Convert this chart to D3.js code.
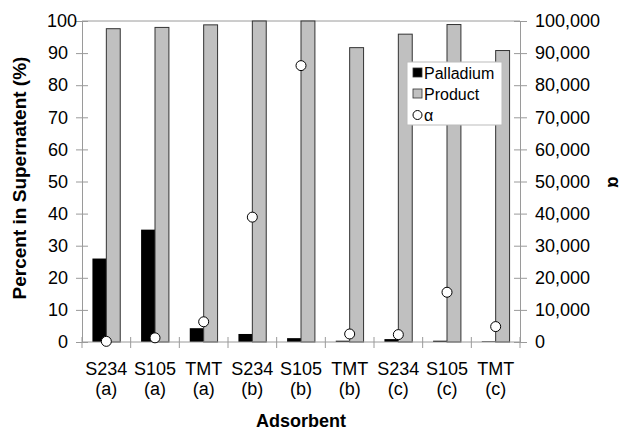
<!DOCTYPE html>
<html>
<head>
<meta charset="utf-8">
<script src="https://cdn.jsdelivr.net/npm/d3@7"></script>
<style>
  body { margin: 0; background: #fff; }
  text { font-family: "Liberation Sans", Arial, sans-serif; fill: #000; }
</style>
</head>
<body>
<svg id="mainsvg" width="624" height="430"></svg>
<script>
// data
const adsorbents = ['S234', 'S105', 'TMT', 'S234', 'S105', 'TMT', 'S234', 'S105', 'TMT'];
const batches = ['(a)', '(a)', '(a)', '(b)', '(b)', '(b)', '(c)', '(c)', '(c)'];
const palladium = [26, 35, 4.3, 2.5, 1.2, 0.4, 0.9, 0.4, 0.2];
const product = [97.6, 98, 98.8, 100, 100, 91.7, 95.9, 98.9, 90.8];
const alpha = [200, 1300, 6300, 38900, 86100, 2500, 2300, 15500, 4800];
const leftTicks = [0, 10, 20, 30, 40, 50, 60, 70, 80, 90, 100];
const rightTicks = [0, 10000, 20000, 30000, 40000, 50000, 60000, 70000, 80000, 90000, 100000];

var svg = d3.select("#mainsvg"),
    margin = {top: 21, right: 104, bottom: 88, left: 82},
    width = svg.attr("width") - margin.left - margin.right,
    height = svg.attr("height") - margin.top - margin.bottom;

var g = svg.append("g")
    .attr('transform', 'translate(' + margin.left + ',' + margin.top + ')')

var keys = d3.range(adsorbents.length)
var rows = keys.map(i => ({i: i, name: adsorbents[i], batch: batches[i],
                          palladium: palladium[i], product: product[i], alpha: alpha[i]}))

// Scales
var x = d3.scaleBand().domain(keys).range([0, width]).padding(0)
var xin = d3.scaleBand().domain(['palladium', 'product'])
    .range([0, x.bandwidth()]).paddingInner(0).paddingOuter(0.75)
var y = d3.scaleLinear().domain([0, 100]).range([height, 0])
var y2 = d3.scaleLinear().domain([0, 100000]).range([height, 0])

const grey = '#9a9a9a'

// top border
g.append('line')
    .attr('x1', 0).attr('x2', width)
    .attr('y1', 0).attr('y2', 0)
    .attr('stroke', grey)

// bars
var groups = g.append('g').selectAll('g')
    .data(rows)
    .enter()
    .append('g')
    .attr('transform', d => 'translate(' + x(d.i) + ',0)')

groups.append('rect')
    .attr('x', xin('palladium'))
    .attr('width', xin.bandwidth())
    .attr('y', d => y(d.palladium))
    .attr('height', d => height - y(d.palladium))
    .attr('fill', '#000')

groups.append('rect')
    .attr('x', xin('product'))
    .attr('width', xin.bandwidth())
    .attr('y', d => y(d.product))
    .attr('height', d => height - y(d.product))
    .attr('fill', '#c0c0c0')
    .attr('stroke', '#333')
    .attr('stroke-width', 1)

// left axis
var yAxis = g.append('g')
    .call(d3.axisLeft(y).tickValues(leftTicks).tickSize(6).tickSizeOuter(0).tickPadding(8))
yAxis.select('.domain').attr('stroke', grey)
yAxis.selectAll('.tick line').attr('x1', 6).attr('stroke', grey)
yAxis.selectAll('.tick text').style('font-size', '18px')
    .filter(d => d === 100).attr('dx', 9)

// right axis
var y2Axis = g.append('g')
    .attr('transform', 'translate(' + width + ',0)')
    .call(d3.axisRight(y2).tickValues(rightTicks).tickFormat(d3.format(',')).tickSize(7).tickSizeOuter(0).tickPadding(8))
y2Axis.select('.domain').attr('stroke', grey)
y2Axis.selectAll('.tick line').attr('x1', -6).attr('stroke', grey)
y2Axis.selectAll('.tick text').style('font-size', '18px')

// bottom axis
g.append('line')
    .attr('x1', 0).attr('x2', width)
    .attr('y1', height).attr('y2', height)
    .attr('stroke', grey)

g.append('g').selectAll('line')
    .data(keys.map(k => x(k)).concat([width]))
    .enter()
    .append('line')
    .attr('x1', d => d).attr('x2', d => d)
    .attr('y1', height - 5).attr('y2', height + 6)
    .attr('stroke', grey)

var labels = g.append('g').selectAll('text')
    .data(rows)
    .enter()
    .append('text')
    .attr('text-anchor', 'middle')
    .style('font-size', '18px')
    .attr('transform', d => 'translate(' + (x(d.i) + x.bandwidth() / 2) + ',' + height + ')')
labels.append('tspan').attr('x', 0).attr('y', 33).text(d => d.name)
labels.append('tspan').attr('x', 0).attr('y', 53).text(d => d.batch)

// alpha points
g.append('g').selectAll('circle')
    .data(rows)
    .enter()
    .append('circle')
    .attr('cx', d => x(d.i) + x.bandwidth() / 2)
    .attr('cy', d => y2(d.alpha))
    .attr('r', 5)
    .attr('fill', '#fff')
    .attr('stroke', '#000')
    .attr('stroke-width', 1)

// axis titles
svg.append('text')
    .attr('x', 301).attr('y', 427)
    .attr('text-anchor', 'middle')
    .style('font-size', '18px').style('font-weight', 'bold')
    .text('Adsorbent')

svg.append('text')
    .attr('transform', 'translate(26,178) rotate(-90)')
    .attr('text-anchor', 'middle')
    .style('font-size', '19px').style('font-weight', 'bold')
    .text('Percent in Supernatent (%)')

svg.append('text')
    .attr('transform', 'translate(608,182) rotate(90)')
    .attr('text-anchor', 'middle')
    .style('font-size', '18px').style('font-weight', 'bold')
    .text('α')

// legend
var legend = svg.append('g').attr('transform', 'translate(407,62)')
legend.append('rect')
    .attr('width', 95).attr('height', 63)
    .attr('fill', '#fff').attr('stroke', '#bbb')

const legendItems = [
    {label: 'Palladium', type: 'rect', fill: '#000'},
    {label: 'Product', type: 'rect', fill: '#c0c0c0'},
    {label: 'α', type: 'circle', fill: '#fff'}]

var li = legend.selectAll('.item')
    .data(legendItems)
    .enter()
    .append('g')
    .attr('class', 'item')
    .attr('transform', (d, i) => 'translate(0,' + (11 + i * 21) + ')')

li.filter(d => d.type === 'rect').append('rect')
    .attr('x', 6).attr('y', -5).attr('width', 9).attr('height', 9)
    .attr('fill', d => d.fill).attr('stroke', '#333').attr('stroke-width', 0.8)
li.filter(d => d.type === 'circle').append('circle')
    .attr('cx', 10.5).attr('cy', 0).attr('r', 4.5)
    .attr('fill', '#fff').attr('stroke', '#000')
li.append('text')
    .attr('x', 17).attr('y', 5.5)
    .style('font-size', '16px')
    .text(d => d.label)
</script>
</body>
</html>
